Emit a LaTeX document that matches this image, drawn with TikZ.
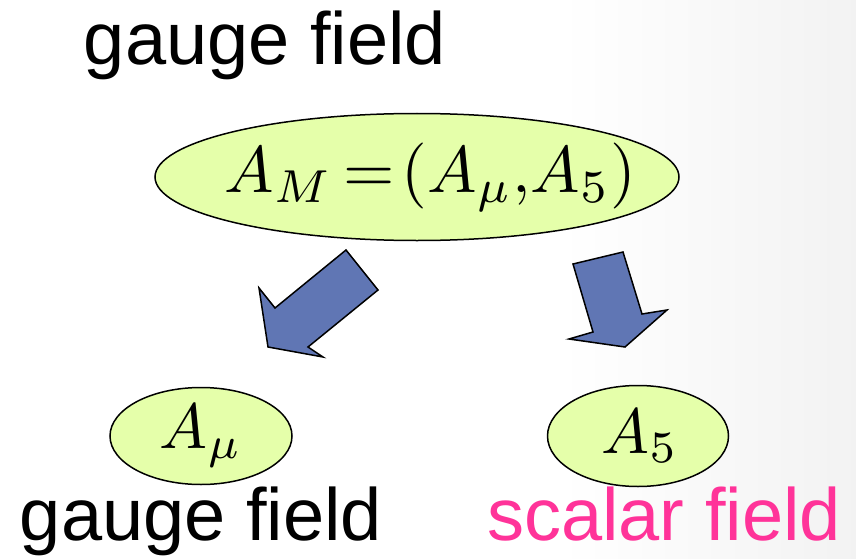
\documentclass[tikz,border=0pt]{standalone}
\usepackage{fontspec}
\setmainfont{Liberation Sans}
\usetikzlibrary{shapes.geometric,positioning,calc}
\definecolor{fieldfill}{RGB}{229,255,170}
\definecolor{arrowblue}{RGB}{96,118,180}
\definecolor{scalarpink}{RGB}{255,51,153}
\newcommand{\bigmath}[2]{\makebox[0pt]{\scalebox{#1}{$#2$}}}
\tikzset{
    fieldellipse/.style={
        ellipse,                  % forma elíptica
        draw=black,               % borde negro
        fill=fieldfill,           % relleno verde-amarillo claro
        line width=1.5pt,
        inner sep=0pt
    },
    blockarrow/.style={
        draw=black,
        fill=arrowblue,           % flecha ancha azulada
        line width=1.5pt,
        line join=miter
    },
    fieldlabel/.style={
        anchor=base,
        font=\fontsize{74}{80}\selectfont
    }
}

\begin{document}
\begin{tikzpicture}[x=1pt,y=-1pt]
    % fondo con un leve degradado a la derecha
    \useasboundingbox (0,0) rectangle (856,559);
    \fill[white] (0,0) rectangle (856,559);
    \shade[left color=white, right color=black!5] (560,0) rectangle (856,559);

    \node[fieldlabel] (topname) at (265,65) {gauge field};
    \node[fieldellipse, minimum width=524pt, minimum height=127pt] (full) at (417,177)
        {\hspace*{26pt}\raisebox{7pt}{\bigmath{6.6}{A_M \mkern-2mu= \mkern-3mu(A_\mu, \mkern-3mu A_5)}}};

    \node[fieldellipse, minimum width=182pt, minimum height=97pt] (vec) at (201,436)
        {\bigmath{6.4}{A_\mu}};
    \node[fieldellipse, minimum width=181pt, minimum height=101pt] (scal) at (638,436)
        {\hspace*{4pt}\bigmath{6.4}{A_5}};

    \node[fieldlabel] (vecname) at (201,540) {gauge field};
    \node[fieldlabel, text=scalarpink] (scalname) at (664,540) {scalar field};

    % flechas anchas
    \draw[blockarrow] (346,250) -- (378,290) -- (308,347) -- (323,357)
        -- (268,347) -- (259,288) -- (275,308) -- cycle;
    \draw[blockarrow] (573,264) -- (623,252) -- (642,314) -- (667,310)
        -- (625,347) -- (569,339) -- (593,332) -- cycle;
\end{tikzpicture}
\end{document}
